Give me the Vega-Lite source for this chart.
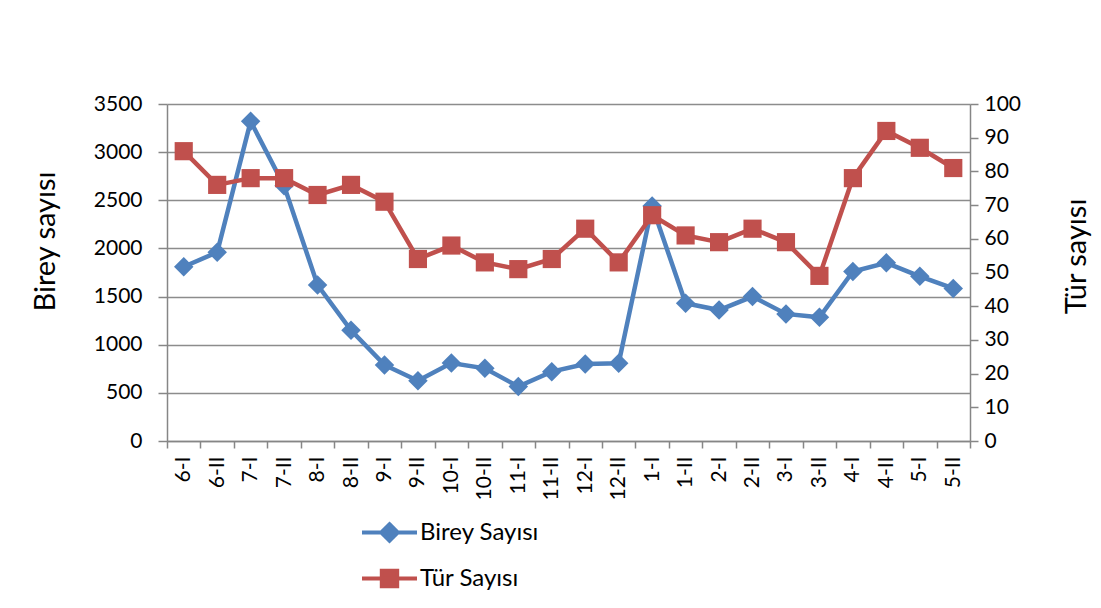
{
  "$schema": "https://vega.github.io/schema/vega-lite/v6.json",
  "width": 803,
  "height": 337,
  "autosize": "none",
  "padding": {"left": 167, "top": 104, "right": 131, "bottom": 167},
  "background": "white",
  "config": {
    "view": {"stroke": null},
    "font": "Lato",
    "axis": {"labelFont": "Lato", "titleFont": "Lato", "labelColor": "black", "titleColor": "black", "domainColor": "#868686", "tickColor": "#868686", "domainWidth": 1.5, "tickWidth": 1.5},
    "legend": {"labelFont": "Lato"}
  },
  "data": {"values": [
    {"cat": "6-I", "birey": 1810, "tur": 86},
    {"cat": "6-II", "birey": 1960, "tur": 76},
    {"cat": "7-I", "birey": 3320, "tur": 78},
    {"cat": "7-II", "birey": 2650, "tur": 78},
    {"cat": "8-I", "birey": 1620, "tur": 73},
    {"cat": "8-II", "birey": 1150, "tur": 76},
    {"cat": "9-I", "birey": 790, "tur": 71},
    {"cat": "9-II", "birey": 625, "tur": 54},
    {"cat": "10-I", "birey": 810, "tur": 58},
    {"cat": "10-II", "birey": 755, "tur": 53},
    {"cat": "11-I", "birey": 565, "tur": 51},
    {"cat": "11-II", "birey": 720, "tur": 54},
    {"cat": "12-I", "birey": 800, "tur": 63},
    {"cat": "12-II", "birey": 807, "tur": 53},
    {"cat": "1-I", "birey": 2440, "tur": 67},
    {"cat": "1-II", "birey": 1430, "tur": 61},
    {"cat": "2-I", "birey": 1360, "tur": 59},
    {"cat": "2-II", "birey": 1500, "tur": 63},
    {"cat": "3-I", "birey": 1320, "tur": 59},
    {"cat": "3-II", "birey": 1285, "tur": 49},
    {"cat": "4-I", "birey": 1760, "tur": 78},
    {"cat": "4-II", "birey": 1850, "tur": 92},
    {"cat": "5-I", "birey": 1710, "tur": 87},
    {"cat": "5-II", "birey": 1585, "tur": 81}
  ]},
  "encoding": {
    "x": {
      "field": "cat", "type": "ordinal", "sort": null,
      "scale": {"type": "band", "paddingInner": 0, "paddingOuter": 0},
      "axis": {"title": null, "labelAngle": 270, "labelFontSize": 21, "labelPadding": 8, "tickSize": 7, "tickBand": "extent", "grid": false}
    }
  },
  "layer": [
    {
      "encoding": {
        "y": {
          "field": "birey", "type": "quantitative",
          "scale": {"domain": [0, 3500], "nice": false},
          "axis": {"orient": "left", "title": "Birey sayısı", "format": "d", "values": [0, 500, 1000, 1500, 2000, 2500, 3000, 3500], "labelFontSize": 21, "labelPadding": 16, "tickSize": 9, "titleFontSize": 29, "titleFontWeight": "normal", "titlePadding": 33, "titleY": 137, "grid": true, "gridColor": "#8c8c8c", "gridWidth": 1.5}
        }
      },
      "layer": [
        {
          "mark": {"type": "line", "strokeWidth": 4.5},
          "encoding": {
            "color": {"datum": "Birey Sayısı", "type": "nominal",
              "scale": {"domain": ["Birey Sayısı", "Tür Sayısı"], "range": ["#4F81BD", "#C0504D"]},
              "legend": {
                "title": null, "orient": "none", "legendX": 193, "legendY": 399,
                "direction": "vertical", "labelFontSize": 24, "labelColor": "black",
                "symbolSize": 3025, "symbolStrokeWidth": 4, "rowPadding": 0, "labelOffset": 1,
                "encode": {"symbols": {"update": {
                  "fill": {"signal": "scale('color', datum.value)"},
                  "fillOpacity": {"value": 1},
                  "opacity": {"value": 1},
                  "shape": {"signal": "datum.value === 'Birey Sayısı' ? 'M-1,0L1,0M0,-0.3L0.3,0L0,0.3L-0.3,0Z' : 'M-1,0L1,0M-0.28,-0.28L0.28,-0.28L0.28,0.28L-0.28,0.28Z'"}
                }}}
              }
            }
          }
        },
        {
          "mark": {"type": "point", "shape": "diamond", "filled": true, "opacity": 1, "size": 380, "color": "#4F81BD"}
        }
      ]
    },
    {
      "encoding": {
        "y": {
          "field": "tur", "type": "quantitative",
          "scale": {"domain": [0, 100], "nice": false},
          "axis": {"orient": "right", "title": "Tür sayısı", "format": "d", "values": [0, 10, 20, 30, 40, 50, 60, 70, 80, 90, 100], "labelFontSize": 21, "labelPadding": 6, "tickSize": 8, "titleFontSize": 29, "titleFontWeight": "normal", "titleAngle": 270, "titleBaseline": "top", "titlePadding": 42, "titleY": 152, "grid": false}
        }
      },
      "layer": [
        {
          "mark": {"type": "line", "strokeWidth": 4.5},
          "encoding": {"color": {"datum": "Tür Sayısı", "type": "nominal"}}
        },
        {
          "mark": {"type": "point", "shape": "square", "filled": true, "opacity": 1, "size": 330, "color": "#C0504D"}
        }
      ]
    }
  ],
  "resolve": {"scale": {"y": "independent"}}
}
